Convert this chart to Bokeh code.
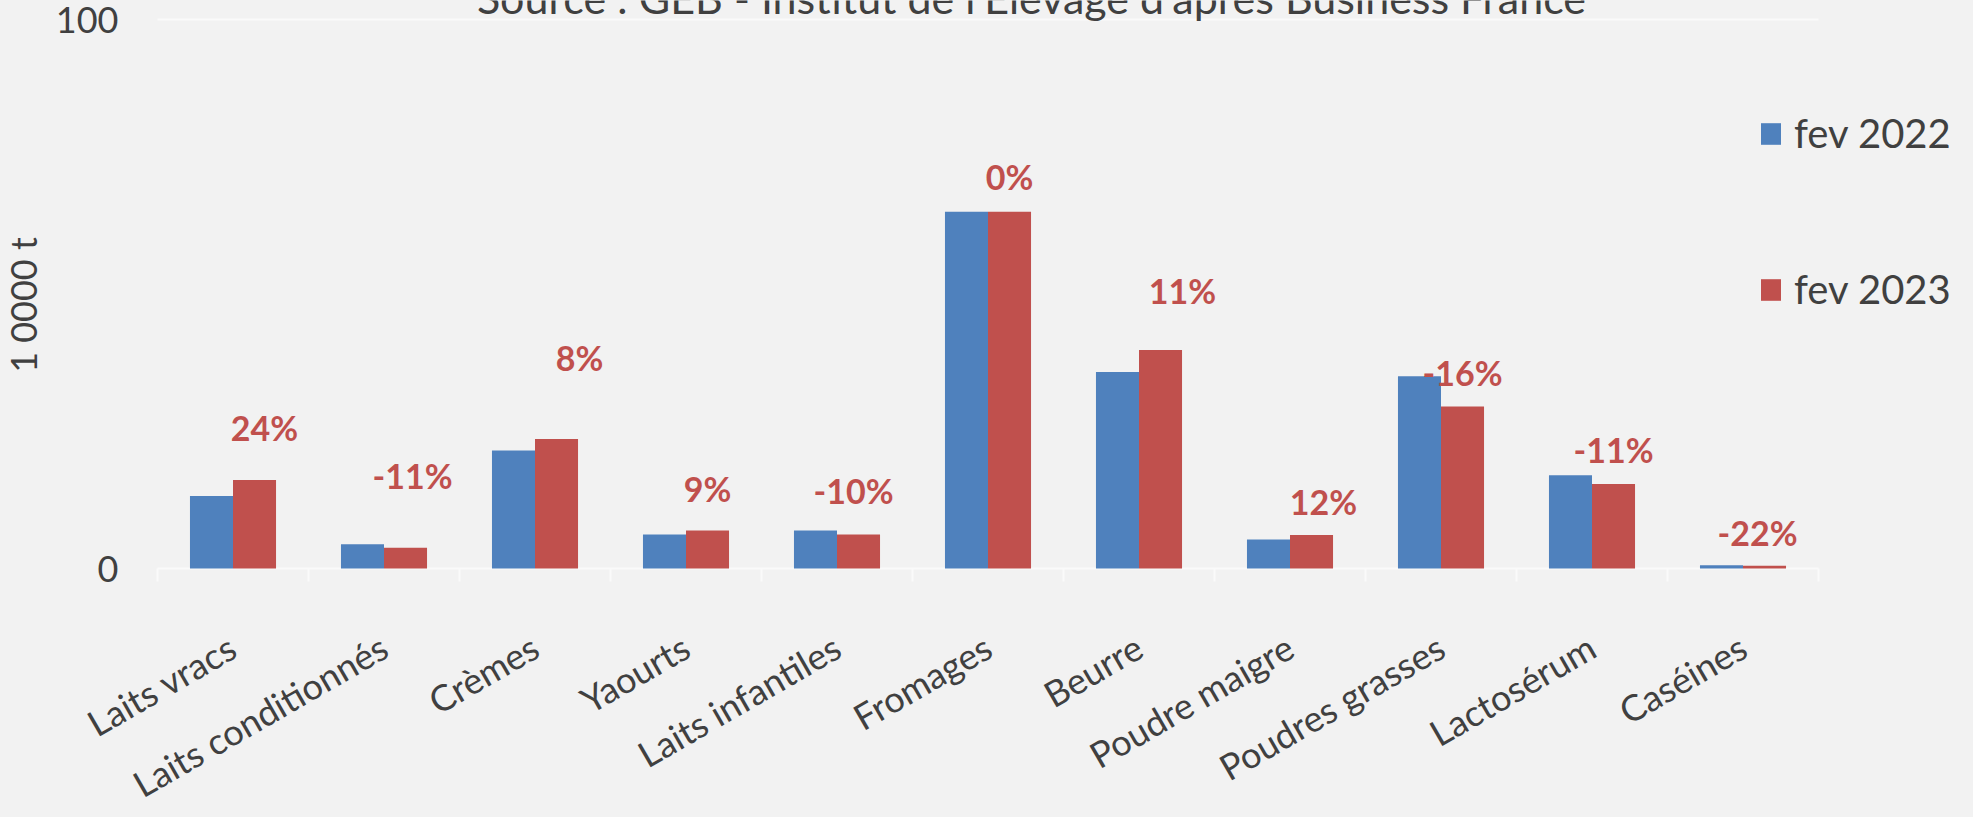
from bokeh.plotting import figure
from bokeh.models import ColumnDataSource, Range1d, FixedTicker, LabelSet, Label
from bokeh.core.properties import value
from bokeh.embed import file_html
from bokeh.resources import INLINE

# ---------------- data ----------------
categories = ["Laits vracs", "Laits conditionnés", "Crèmes", "Yaourts", "Laits infantiles",
              "Fromages", "Beurre", "Poudre maigre", "Poudres grasses", "Lactosérum", "Caséines"]
fev_2022 = [13.2, 4.4, 21.5, 6.2, 6.9, 65.0, 35.8, 5.3, 35.0, 17.0, 0.6]
fev_2023 = [16.1, 3.8, 23.6, 6.9, 6.2, 65.0, 39.8, 6.1, 29.5, 15.4, 0.5]
variation = ["24%", "-11%", "8%", "9%", "-10%", "0%", "11%", "12%", "-16%", "-11%", "-22%"]
series_names = ["fev 2022", "fev 2023"]
y_ticks = [0, 100]
y_title = "1 0000 t"
source_text = "Source : GEB - Institut de l'Elevage d'après Business France"

# placement of the variation labels (height in data units, horizontal nudge in px)
label_height = [23.3, 14.4, 35.9, 12.1, 11.8, 68.9, 48.1, 9.7, 33.2, 19.3, 4.1]
label_dx = [10, 7, 23, 0, -5, 0, 22, 12, 0, 0, -7]

# ---------------- style / layout ----------------
BG = "#F2F2F2"
BLUE = "#4F81BD"
RED = "#C0504D"
TXT = "#404040"
LINE = "#FAFAFA"
FONT = "Lato"
W, H = 1957, 801
LEFT, TOP, BOTTOM = 157, 19, 233   # where the 0..100 / category area sits in the canvas
CAT_PX = 151                        # width of one category in px
PX_PER_UNIT = (H - TOP - BOTTOM) / 100.0
BAR_W = 0.285                       # bar width, in category units
ANGLE = 0.5236                      # rotation of the category names

n = len(categories)
centers = [i + 0.5 for i in range(n)]
bounds_x = [float(i) for i in range(n + 1)]
x22 = [c - BAR_W / 2 for c in centers]
x23 = [c + BAR_W / 2 for c in centers]

# the frame covers the whole canvas so that nothing gets clipped; axes are pinned in place
p = figure(x_range=Range1d(-LEFT / CAT_PX, (W - LEFT) / CAT_PX),
           y_range=Range1d(-BOTTOM / PX_PER_UNIT, 100 + TOP / PX_PER_UNIT),
           width=W, height=H, output_backend="svg", toolbar_location=None,
           min_border_left=0, min_border_right=0, min_border_top=0, min_border_bottom=0,
           background_fill_color=BG, border_fill_color=BG, outline_line_color=None)

src = ColumnDataSource(dict(cat=categories, xc=centers, x22=x22, x23=x23, v22=fev_2022, v23=fev_2023,
                            lab=variation, ly=label_height, dx=label_dx))

# light horizontal lines at 0 and 100, spanning the categories only
p.segment(x0=0, x1=n, y0=y_ticks, y1=y_ticks, line_color=LINE, line_width=2)

p.vbar(x="x22", top="v22", width=BAR_W, source=src,
       fill_color=BLUE, line_color=None, legend_label=series_names[0])
p.vbar(x="x23", top="v23", width=BAR_W, source=src,
       fill_color=RED, line_color=None, legend_label=series_names[1])

# variation labels
pct = LabelSet(x="x23", y="ly", text="lab", x_offset="dx",
               source=src, text_align="center", text_baseline="alphabetic",
               text_font=value(FONT), text_font_size="34px", text_font_style="bold",
               text_color=RED)
p.add_layout(pct)

# source line (cut by the top edge as in the original)
p.add_layout(Label(x=1031, y=H + 3, x_units="screen", y_units="screen", text=source_text,
                   text_align="center", text_baseline="alphabetic",
                   text_font=FONT, text_font_size="43px", text_color=TXT))

# x axis: category names, pinned at y = 0
xa = p.xaxis[0]
xa.fixed_location = 0
xa.bounds = (0, n)
xa.ticker = FixedTicker(ticks=centers, minor_ticks=bounds_x)
xa.major_label_overrides = {c: name for c, name in zip(centers, categories)}
xa.major_label_orientation = ANGLE
xa.major_label_standoff = 62
xa.major_label_text_font = FONT
xa.major_label_text_font_size = "36px"
xa.major_label_text_color = TXT
xa.axis_line_color = None
xa.major_tick_line_color = None
xa.minor_tick_line_color = LINE
xa.minor_tick_line_width = 2
xa.minor_tick_in = 0
xa.minor_tick_out = 13

# y axis: 0 and 100, pinned at x = 0
ya = p.yaxis[0]
ya.fixed_location = 0
ya.bounds = (-4, 100)
ya.ticker = FixedTicker(ticks=y_ticks)
ya.axis_label = y_title
ya.axis_line_color = None
ya.major_tick_line_color = None
ya.minor_tick_line_color = None
ya.major_label_standoff = 33
ya.major_label_text_font = FONT
ya.major_label_text_font_size = "36px"
ya.major_label_text_color = TXT
ya.axis_label_text_font = FONT
ya.axis_label_text_font_size = "36px"
ya.axis_label_text_font_style = "normal"
ya.axis_label_text_color = TXT
ya.axis_label_standoff = 8

p.xgrid.visible = False
p.ygrid.visible = False

# legend
leg = p.legend[0]
leg.location = (1758, 484)
leg.label_text_font = FONT
leg.label_text_font_size = "40px"
leg.label_text_color = TXT
leg.glyph_width = 25
leg.glyph_height = 27
leg.label_height = 56
leg.spacing = 100
leg.label_standoff = 11
leg.padding = 0
leg.margin = 0
leg.border_line_color = None
leg.background_fill_alpha = 0

PAGE = "{% block preamble %}<style>html, body { background-color: #F2F2F2; }</style>{% endblock %}"
open("out.html", "w").write(file_html(p, INLINE, template=PAGE))
